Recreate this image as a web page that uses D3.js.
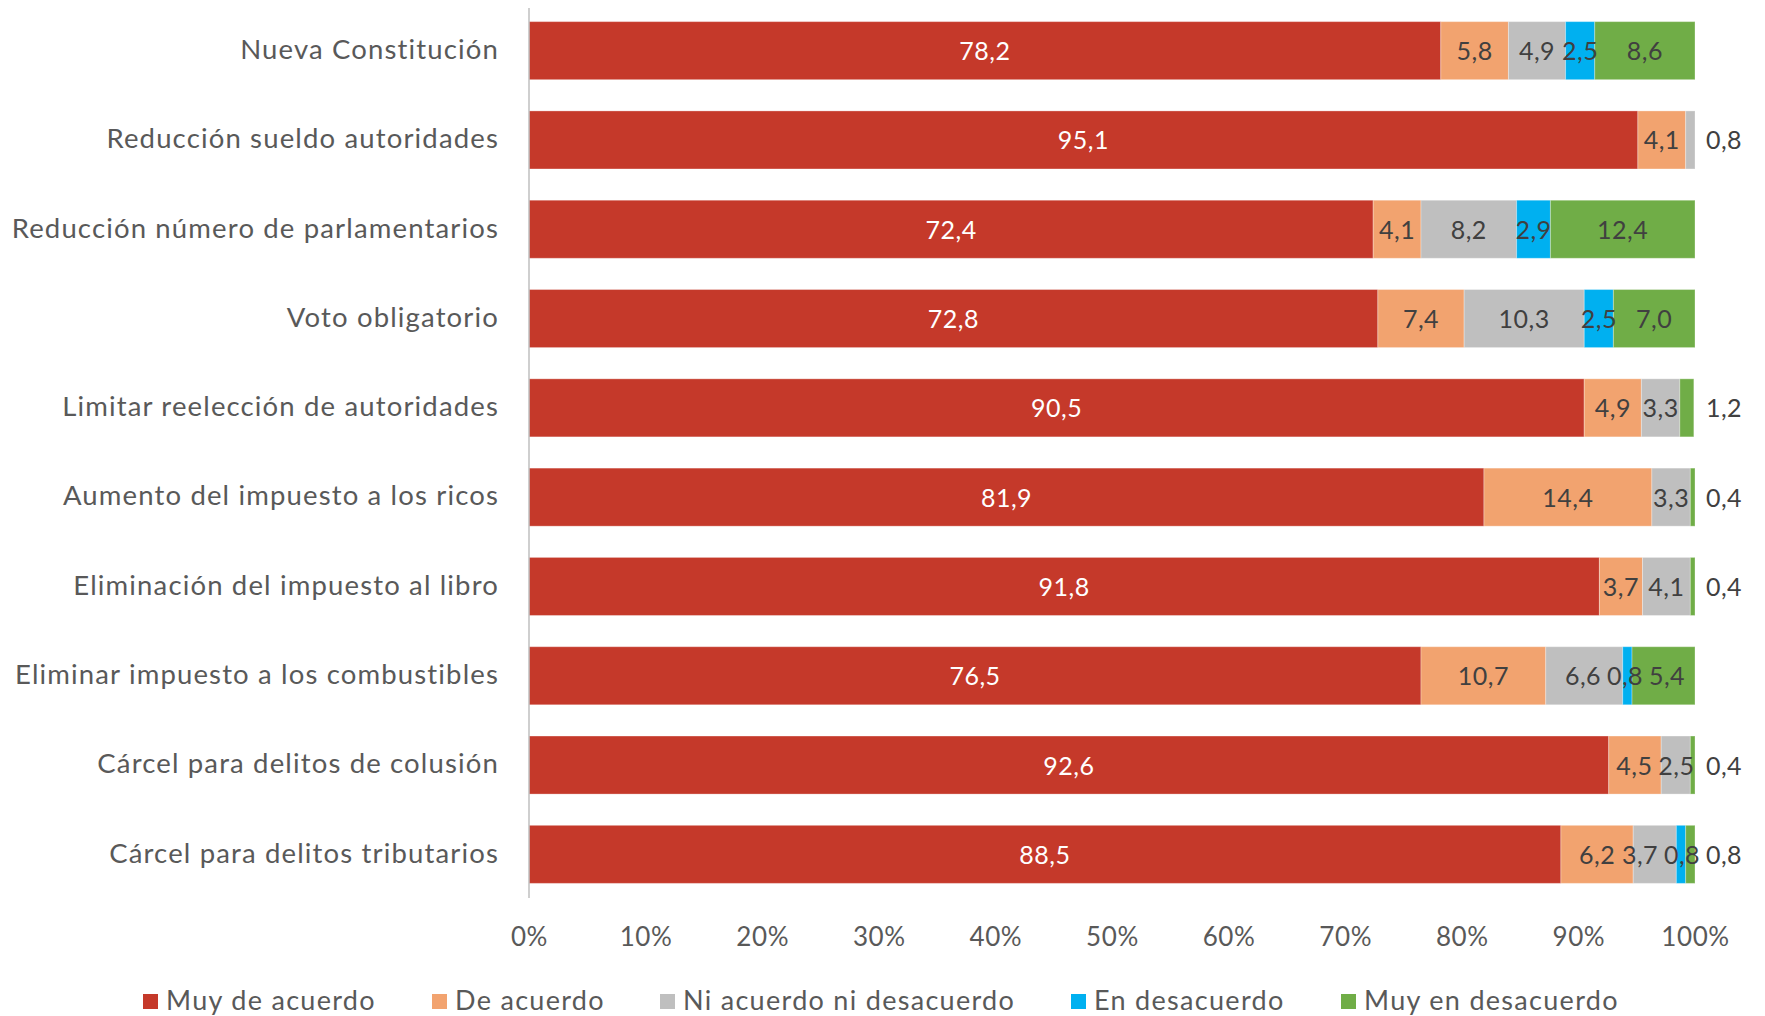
<!DOCTYPE html>
<html>
<head>
<meta charset="utf-8">
<script src="https://cdn.jsdelivr.net/npm/d3@7"></script>
<style>
  body { margin: 0; background: #fff; }
  svg { display: block; font-family: Lato, "Open Sans", sans-serif; }
</style>
</head>
<body>
<div id="chart"></div>
<script>
// categories, top to bottom
var categories = [
  "Nueva Constitución",
  "Reducción sueldo autoridades",
  "Reducción número de parlamentarios",
  "Voto obligatorio",
  "Limitar reelección de autoridades",
  "Aumento del impuesto a los ricos",
  "Eliminación del impuesto al libro",
  "Eliminar impuesto a los combustibles",
  "Cárcel para delitos de colusión",
  "Cárcel para delitos tributarios"
];
var seriesNames = ["Muy de acuerdo", "De acuerdo", "Ni acuerdo ni desacuerdo", "En desacuerdo", "Muy en desacuerdo"];
var muyDeAcuerdo  = [78.2, 95.1, 72.4, 72.8, 90.5, 81.9, 91.8, 76.5, 92.6, 88.5];
var deAcuerdo     = [5.8, 4.1, 4.1, 7.4, 4.9, 14.4, 3.7, 10.7, 4.5, 6.2];
var niNi          = [4.9, 0.8, 8.2, 10.3, 3.3, 3.3, 4.1, 6.6, 2.5, 3.7];
var enDesacuerdo  = [2.5, 0, 2.9, 2.5, 0, 0, 0, 0.8, 0, 0.8];
var muyEnDesac    = [8.6, 0, 12.4, 7.0, 1.2, 0.4, 0.4, 5.4, 0.4, 0.8];
var tickValues = [0, 0.1, 0.2, 0.3, 0.4, 0.5, 0.6, 0.7, 0.8, 0.9, 1];
var colors = ["#c5392a", "#f2a36f", "#bfbfbf", "#00b0f0", "#70ad47"];

var W = 1765, H = 1016;
var plotL = 529, plotR = 1695, plotT = 6, plotB = 899;

var series = [muyDeAcuerdo, deAcuerdo, niNi, enDesacuerdo, muyEnDesac];
var rows = categories.map(function(c, i) {
  var r = {cat: c};
  seriesNames.forEach(function(s, k) { r[s] = series[k][i]; });
  return r;
});
var stacked = d3.stack().keys(seriesNames)(rows);

var x = d3.scaleLinear().domain([0, 100]).range([plotL, plotR]);
var y = d3.scaleBand().domain(categories).range([plotT, plotB]).paddingInner(0.35).paddingOuter(0.175);

var svg = d3.select("#chart").append("svg").attr("width", W).attr("height", H);

var layers = svg.selectAll("g.layer").data(stacked).enter().append("g")
  .attr("class", "layer")
  .attr("fill", function(d, i) { return colors[i]; });

layers.selectAll("rect").data(function(d) { return d; }).enter().append("rect")
  .attr("x", function(d) { return x(d[0]); })
  .attr("y", function(d) { return y(d.data.cat); })
  .attr("width", function(d) { return x(d[1]) - x(d[0]); })
  .attr("height", y.bandwidth())
  .attr("stroke", "#ffffff").attr("stroke-opacity", 0.3).attr("stroke-width", 1);

// data labels, collected per row then spread apart if they collide
var minGap = 42;
categories.forEach(function(cat, i) {
  var labs = [];
  stacked.forEach(function(layer, k) {
    var d = layer[i];
    var v = d[1] - d[0];
    if (v <= 0) return;
    var last = stacked.slice(k + 1).every(function(l) { return l[i][1] - l[i][0] <= 0; });
    var outside = last && v < 2;
    labs.push({k: k, v: v, fixed: outside,
      cx: outside ? x(100) + 29 : (x(d[0]) + x(d[1])) / 2});
  });
  var chain = labs.filter(function(l) { return l.k > 0; });
  for (var it = 0; it < 30; it++) {
    for (var j = 1; j < chain.length; j++) {
      var gap = chain[j].cx - chain[j - 1].cx;
      if (gap < minGap) {
        if (chain[j].fixed) {
          chain[j - 1].cx -= minGap - gap;
        } else {
          var push = (minGap - gap) / 2;
          chain[j - 1].cx -= push;
          chain[j].cx += push;
        }
      }
    }
  }
  labs.forEach(function(l) {
    svg.append("text")
      .attr("x", l.cx)
      .attr("y", y(cat) + y.bandwidth() / 2)
      .attr("dy", "0.38em")
      .attr("text-anchor", "middle")
      .attr("font-size", 25)
      .attr("letter-spacing", 0.5)
      .attr("fill", l.k === 0 ? "#ffffff" : "#404040")
      .text(d3.format(".1f")(l.v).replace(".", ","));
  });
});

// category axis line
svg.append("line")
  .attr("x1", plotL).attr("x2", plotL)
  .attr("y1", plotT + 2).attr("y2", plotB - 1)
  .attr("stroke", "#bfbfbf").attr("stroke-width", 1.5);

svg.selectAll("text.cat").data(categories).enter().append("text")
  .attr("class", "cat")
  .attr("x", 499)
  .attr("y", function(d) { return y(d) + y.bandwidth() / 2; })
  .attr("dy", "0.3em")
  .attr("text-anchor", "end")
  .attr("font-size", 27.5)
  .attr("letter-spacing", 1.15)
  .attr("fill", "#595959")
  .text(function(d) { return d; });

// x axis
var xAxis = d3.axisBottom(d3.scaleLinear().domain([0, 1]).range([plotL, plotR]))
  .tickValues(tickValues).tickSize(0).tickFormat(d3.format(".0%"));
var gx = svg.append("g").attr("transform", "translate(0," + 925 + ")").call(xAxis);
gx.select(".domain").remove();
gx.selectAll("text").attr("font-size", 26).attr("letter-spacing", 0.6)
  .attr("fill", "#595959").attr("font-family", "Lato, 'Open Sans', sans-serif");

// legend
var legendX = [143, 432, 660, 1071, 1341];
var lg = svg.selectAll("g.leg").data(seriesNames).enter().append("g")
  .attr("class", "leg")
  .attr("transform", function(d, i) { return "translate(" + legendX[i] + ",1001)"; });
lg.append("rect").attr("x", 0).attr("y", -7).attr("width", 15).attr("height", 15)
  .attr("fill", function(d, i) { return colors[i]; });
lg.append("text").attr("x", 23).attr("dy", "0.35em")
  .attr("font-size", 27).attr("letter-spacing", 1.3)
  .attr("fill", "#595959")
  .text(function(d) { return d; });
</script>
</body>
</html>
